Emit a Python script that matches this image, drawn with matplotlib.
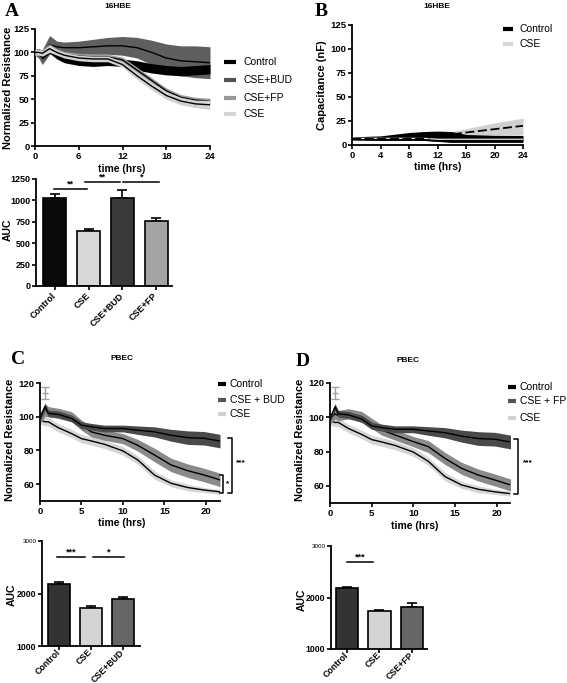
import matplotlib
matplotlib.use("Agg")
import matplotlib.pyplot as plt
from matplotlib.lines import Line2D

# ---- panel A: 16HBE normalized resistance ----
t_a = [0, 0.5, 1, 2, 3, 4, 6, 8, 10, 12, 14, 16, 18, 20, 22, 24]
ctrl_a = [100, 101, 97, 104, 97, 93, 90, 89, 90, 89, 86, 83, 81, 80, 81, 82]
ctrl_a_err = [3, 3, 4, 5, 4, 4, 4, 4, 4, 4, 5, 5, 5, 5, 5, 5]
bud_a = [100, 98, 95, 108, 106, 105, 105, 106, 107, 107, 105, 100, 94, 91, 90, 89]
bud_a_err = [3, 4, 8, 10, 6, 6, 7, 8, 9, 10, 11, 13, 15, 16, 17, 17]
fp_a = [100, 101, 100, 105, 101, 98, 96, 95, 95, 92, 81, 70, 59, 52, 49, 48]
fp_a_err = [3, 3, 3, 4, 3, 3, 3, 3, 3, 3, 3, 3, 3, 3, 3, 3]
cse_a = [100, 100, 99, 104, 100, 97, 94, 93, 93, 87, 75, 64, 54, 48, 45, 44]
cse_a_err = [3, 3, 3, 4, 3, 3, 3, 3, 3, 3, 4, 4, 4, 4, 4, 5]

auc_a_groups = ["Control", "CSE", "CSE+BUD", "CSE+FP"]
auc_a = [1030, 645, 1030, 765]
auc_a_err = [45, 20, 95, 25]
auc_a_colors = ["#0a0a0a", "#d8d8d8", "#3a3a3a", "#a4a4a4"]

# ---- panel B: 16HBE capacitance ----
t_b = [0, 4, 8, 10, 12, 14, 16, 20, 24]
ctrl_b_lo = [5.5, 5, 5, 5, 4, 3, 3, 3, 3]
ctrl_b_hi = [8.5, 9.5, 13, 14, 14.5, 14, 11, 10, 10]
ctrl_b = [7, 7, 7, 7, 6, 6, 6, 6, 6]
cse_b = [6.5, 6.5, 6.5, 7, 9, 11, 13, 16.5, 20]
cse_b_lo = [6, 6, 6, 6, 7, 8, 9, 10, 11]
cse_b_hi = [7, 7, 7, 8, 11, 14, 17, 23, 28]

# ---- panels C/D: PBEC normalized resistance ----
t_c = [0, 0.6, 1, 2.2, 3.8, 5, 6.2, 7.8, 10, 11.8, 13.8, 15.8, 17.8, 19.8, 21.4, 21.7]
ctrl_c = [99, 106, 102, 101.4, 99, 95, 94, 93, 93, 92, 91, 89, 87.6, 87.2, 85.8, 85.5]
ctrl_c_err = [2, 2, 2, 2, 2, 2, 2, 2, 2, 2.5, 3, 3.5, 4, 4, 4, 4]
bud_c = [99, 104, 103, 102, 100, 95, 91, 89, 87, 83, 77.3, 71.4, 68, 65.4, 63, 62.5]
bud_c_err = [3, 4, 3, 3, 3, 3, 3, 3, 3, 3.5, 4, 4, 4, 4, 4, 4]
fp_d = [99, 102, 101, 102, 100.4, 96.5, 92.6, 89.7, 85.8, 82.9, 76, 70.2, 66.3, 63.4, 60.9, 60.5]
fp_d_err = [3, 3, 3, 3, 3, 3, 3, 3, 3, 3.5, 3.5, 3.5, 3.5, 3.5, 3.5, 3.5]
cse_c = [98, 97, 97, 93.5, 90, 87, 85.6, 83.6, 79.7, 74.3, 65.4, 60.5, 58, 56.5, 55.6, 55.4]
cse_c_err = [2.5, 2.5, 2.5, 2.5, 2.5, 2.5, 2.5, 2.5, 2.5, 2.5, 2.5, 2, 2, 1.5, 1.5, 1.5]
spike_t, spike_val, spike_err = [0.6], [114], [3.5]

auc_c_groups = ["Control", "CSE", "CSE+BUD"]
auc_c = [2180, 1730, 1890]
auc_c_err = [30, 35, 40]
auc_d_groups = ["Control", "CSE", "CSE+FP"]
auc_d = [2180, 1730, 1810]
auc_d_err = [30, 30, 80]
auc_cd_colors = ["#333333", "#d4d4d4", "#666666"]

W, H = 567, 683
plt.rcParams["font.family"] = ["Liberation Sans", "DejaVu Sans"]
plt.rcParams["font.weight"] = "bold"
plt.rcParams["axes.labelweight"] = "bold"

fig = plt.figure(figsize=(W / 100, H / 100), dpi=100)


def add_ax(left, top, right, bottom):
    # axes placed by pixel edges of the reference image
    return fig.add_axes([left / W, 1 - bottom / H, (right - left) / W, (bottom - top) / H])


def fig_text(x, y, s, **kw):
    fig.text(x / W, 1 - y / H, s, **kw)


def fig_line(xs, ys, **kw):
    fig.add_artist(Line2D([x / W for x in xs], [1 - y / H for y in ys],
                          transform=fig.transFigure, **kw))


def style(ax, size=6.8):
    for side in ("top", "right"):
        ax.spines[side].set_visible(False)
    for side in ("left", "bottom"):
        ax.spines[side].set_linewidth(1.3)
    ax.tick_params(direction="out", length=3, width=1.2, labelsize=size, pad=1)


def band(ax, t, mean, err, color, z, lw=1.0):
    lo = [m - e for m, e in zip(mean, err)]
    hi = [m + e for m, e in zip(mean, err)]
    ax.fill_between(t, lo, hi, color=color, lw=0, zorder=z)
    ax.plot(t, mean, color="black", lw=lw, zorder=z + 0.5)


def legend_px(x0, x1, xt, ys, labels, colors, size=7.5):
    for y, lab, col in zip(ys, labels, colors):
        fig_line([x0, x1], [y, y], color=col, lw=3, solid_capstyle="butt")
        fig_text(xt, y, lab, fontsize=size, fontweight="normal", va="center")


def auc_bars(ax, groups, vals, errs, cols, size=6):
    x = list(range(len(groups)))
    ax.bar(x, vals, width=0.68, color=cols, edgecolor="black", linewidth=1.2, zorder=2)
    ax.errorbar(x, vals, yerr=[[0] * len(errs), errs], fmt="none", ecolor="black",
                elinewidth=1.2, capsize=3.5, capthick=1.2, zorder=1)
    ax.set_xticks(x)
    ax.set_xticklabels(groups, rotation=45, ha="right", va="center",
                       rotation_mode="anchor", fontsize=size)


def sig(ax, x0, x1, y, s):
    ax.plot([x0, x1], [y, y], color="black", lw=1.1, clip_on=False)
    ax.text((x0 + x1) / 2, y, s, ha="center", va="bottom", fontsize=6.5)


# ---------------- A: time course ----------------
ax = add_ax(35, 29, 210, 146)
band(ax, t_a, bud_a, bud_a_err, "#5f5f5f", 1)
band(ax, t_a, ctrl_a, ctrl_a_err, "#000000", 2)
band(ax, t_a, fp_a, fp_a_err, "#9c9c9c", 3)
band(ax, t_a, cse_a, cse_a_err, "#d2d2d2", 4)
ax.set_xlim(0, 24)
ax.set_ylim(0, 125)
ax.set_xticks([0, 6, 12, 18, 24])
ax.set_yticks([0, 25, 50, 75, 100, 125])
style(ax)
legend_px(224, 236, 244, [62, 80, 98, 114], ["Control", "CSE+BUD", "CSE+FP", "CSE"],
          ["#000000", "#555555", "#999999", "#d5d5d5"])
fig_text(8, 88, "Normalized Resistance", rotation=90, ha="center", va="center", fontsize=8)
fig_text(122, 169, "time (hrs)", ha="center", va="center", fontsize=7.5)
fig_text(118, 6, "16HBE", ha="center", va="center", fontsize=6)
fig_text(12, 11, "A", ha="center", va="center", fontsize=14, family="Liberation Serif")

# ---------------- A: AUC ----------------
ax = add_ax(36, 179, 172, 286)
auc_bars(ax, auc_a_groups, auc_a, auc_a_err, auc_a_colors, 6.3)
ax.set_xlim(-0.56, 3.47)
ax.set_ylim(0, 1250)
ax.set_yticks([0, 250, 500, 750, 1000, 1250])
style(ax, 6.5)
ax.tick_params(axis="x", pad=3)
sig(ax, -0.03, 0.94, 1137, "**")
sig(ax, 0.88, 1.94, 1215, "**")
sig(ax, 2.03, 3.09, 1215, "*")
fig_text(8, 230, "AUC", rotation=90, ha="center", va="center", fontsize=7.5)

# ---------------- B: capacitance ----------------
ax = add_ax(352, 25, 523, 145)
ax.fill_between(t_b, cse_b_lo, cse_b_hi, color="#d0d0d0", lw=0, zorder=1)
ax.fill_between(t_b, ctrl_b_lo, ctrl_b_hi, color="#000000", lw=0, zorder=2)
ax.plot(t_b, ctrl_b, color="white", lw=0.8, zorder=3)
ax.plot(t_b, ctrl_b_lo, color="black", lw=1.0, zorder=3)
ax.plot(t_b, cse_b, color="black", lw=1.3, ls=(0, (5, 2)), zorder=4)
ax.set_xlim(0, 24)
ax.set_ylim(0, 125)
ax.set_xticks([0, 4, 8, 12, 16, 20, 24])
ax.set_yticks([0, 25, 50, 75, 100, 125])
style(ax)
legend_px(503, 513, 520, [29, 44], ["Control", "CSE"], ["#000000", "#d8d8d8"])
fig_text(322, 85, "Capacitance (nF)", rotation=90, ha="center", va="center", fontsize=8)
fig_text(438, 167, "time (hrs)", ha="center", va="center", fontsize=7.5)
fig_text(437, 6, "16HBE", ha="center", va="center", fontsize=6)
fig_text(321, 11, "B", ha="center", va="center", fontsize=14, family="Liberation Serif")


# ---------------- C / D: time course ----------------
def pbec_panel(left, right, top, bottom, treat, treat_err, xmax):
    ax = add_ax(left, top, right, bottom)
    band(ax, t_c, cse_c, cse_c_err, "#d6d6d6", 1)
    band(ax, t_c, treat, treat_err, "#8a8a8a", 2)
    band(ax, t_c, ctrl_c, ctrl_c_err, "#4a4a4a", 3)
    ax.errorbar(spike_t, spike_val, yerr=spike_err, fmt="_", color="#a0a0a0",
                ecolor="#a0a0a0", elinewidth=1, capsize=3, ms=5, zorder=5)
    ax.set_xlim(0, xmax)
    ax.set_ylim(50, 120)
    ax.set_xticks([0, 5, 10, 15, 20])
    ax.set_yticks([60, 80, 100, 120])
    style(ax)
    return ax


pbec_panel(40, 220, 383, 501, bud_c, bud_c_err, 21.7)
legend_px(218, 226, 230, [384, 400, 414], ["Control", "CSE + BUD", "CSE"],
          ["#000000", "#555555", "#d0d0d0"])
fig_line([228, 232, 232, 228], [438, 438, 493, 493], color="black", lw=1.1)
fig_text(241, 463, "***", ha="center", va="center", fontsize=6)
fig_line([220, 223, 223, 220], [475, 475, 493, 493], color="black", lw=1.1)
fig_text(228, 484, "*", ha="center", va="center", fontsize=6)
fig_text(10, 440, "Normalized Resistance", rotation=90, ha="center", va="center", fontsize=8)
fig_text(122, 523, "time (hrs)", ha="center", va="center", fontsize=7.5)
fig_text(122, 358, "PBEC", ha="center", va="center", fontsize=6)
fig_text(18, 360, "C", ha="center", va="center", fontsize=14, family="Liberation Serif")

pbec_panel(330, 510, 383, 503, fp_d, fp_d_err, 21.6)
legend_px(508, 516, 520, [387, 401, 418], ["Control", "CSE + FP", "CSE"],
          ["#000000", "#555555", "#d0d0d0"])
fig_line([514, 518, 518, 514], [439, 439, 494, 494], color="black", lw=1.1)
fig_text(528, 463, "***", ha="center", va="center", fontsize=6)
fig_text(300, 440, "Normalized Resistance", rotation=90, ha="center", va="center", fontsize=8)
fig_text(415, 526, "time (hrs)", ha="center", va="center", fontsize=7.5)
fig_text(408, 360, "PBEC", ha="center", va="center", fontsize=6)
fig_text(303, 362, "D", ha="center", va="center", fontsize=14, family="Liberation Serif")


# ---------------- C / D: AUC ----------------
def pbec_auc(left, right, top, bottom, groups, vals, errs, xlim):
    ax = add_ax(left, top, right, bottom)
    auc_bars(ax, groups, vals, errs, auc_cd_colors, 5.2)
    ax.set_xlim(*xlim)
    ax.set_ylim(1000, 3000)
    ax.set_yticks([1000, 2000, 3000])
    style(ax, 6.3)
    ax.tick_params(axis="x", pad=0.5)
    ax.get_yticklabels()[-1].set_fontsize(4.5)
    ax.get_yticklabels()[-1].set_fontweight("normal")
    return ax


ax = pbec_auc(42, 140, 541, 646, auc_c_groups, auc_c, auc_c_err, (-0.53, 2.53))
sig(ax, -0.06, 0.81, 2700, "***")
sig(ax, 1.06, 2.03, 2700, "*")
fig_text(12, 595, "AUC", rotation=90, ha="center", va="center", fontsize=7.5)

ax = pbec_auc(331, 427, 546, 649, auc_d_groups, auc_d, auc_d_err, (-0.49, 2.46))
sig(ax, 0.0, 0.8, 2690, "***")
fig_text(302, 600, "AUC", rotation=90, ha="center", va="center", fontsize=7.5)

fig.savefig("out.png", dpi=100)
